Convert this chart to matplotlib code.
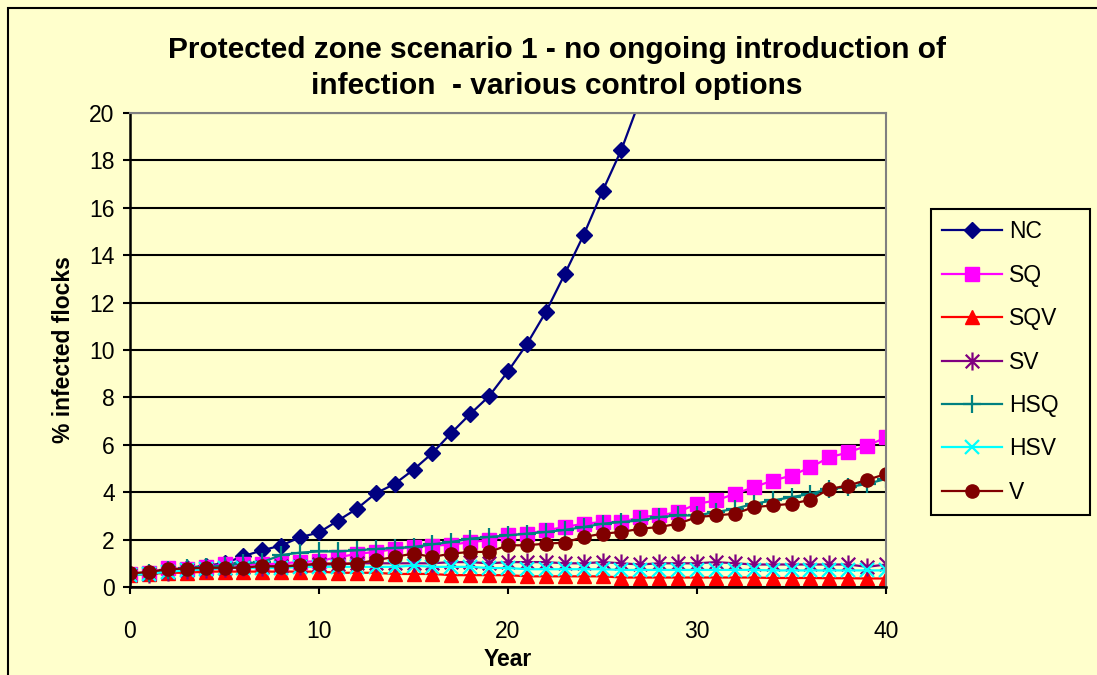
import numpy as np
import matplotlib
matplotlib.use('Agg')
import matplotlib.pyplot as plt
from matplotlib.patches import Rectangle
from matplotlib.path import Path

plt.rcParams['font.family'] = ['Liberation Sans', 'DejaVu Sans']

years = list(range(0, 41))
nc_years = list(range(0, 29))

NC = [0.55, 0.6, 0.7, 0.8, 0.9, 1.0, 1.3, 1.55, 1.75, 2.1, 2.3,
      2.8, 3.3, 3.95, 4.35, 4.95, 5.65, 6.5, 7.3, 8.05, 9.1,
      10.25, 11.6, 13.2, 14.85, 16.7, 18.45, 20.6, 22.8]
SQ = [0.55, 0.6, 0.8, 0.75, 0.85, 0.95, 0.95, 0.95, 1.0, 1.05, 1.1,
      1.25, 1.4, 1.48, 1.6, 1.68, 1.75, 1.78, 1.9, 1.97, 2.18,
      2.25, 2.39, 2.53, 2.67, 2.74, 2.74, 2.95, 3.02, 3.16, 3.51,
      3.65, 3.93, 4.21, 4.49, 4.70, 5.05, 5.47, 5.68, 5.96, 6.31]
SQV = [0.5, 0.55, 0.6, 0.6, 0.65, 0.65, 0.65, 0.65, 0.65, 0.65, 0.65,
       0.6, 0.6, 0.6, 0.55, 0.55, 0.55, 0.5, 0.5, 0.5, 0.5,
       0.45, 0.45, 0.45, 0.45, 0.45, 0.4, 0.4, 0.4, 0.4, 0.4,
       0.4, 0.4, 0.4, 0.38, 0.38, 0.38, 0.37, 0.37, 0.36, 0.36]
SV = [0.5, 0.55, 0.65, 0.7, 0.75, 0.8, 0.85, 0.85, 0.9, 0.9, 0.95,
      0.95, 1.0, 1.0, 1.0, 1.0, 1.0, 1.05, 1.05, 1.0, 1.05,
      1.05, 1.05, 1.0, 1.0, 1.05, 1.0, 0.95, 1.0, 1.0, 1.0,
      1.05, 1.0, 0.95, 0.95, 0.95, 0.95, 0.95, 0.95, 0.85, 0.95]
HSQ = [0.55, 0.6, 0.7, 0.8, 0.85, 0.9, 1.0, 1.05, 1.35, 1.45, 1.5,
       1.5, 1.55, 1.6, 1.65, 1.69, 1.8, 1.9, 2.04, 2.11, 2.18,
       2.25, 2.32, 2.41, 2.53, 2.67, 2.74, 2.81, 2.95, 3.02, 3.02,
       3.16, 3.3, 3.51, 3.65, 3.79, 3.93, 4.14, 4.21, 4.35, 4.56]
HSV = [0.5, 0.55, 0.65, 0.7, 0.75, 0.8, 0.8, 0.8, 0.8, 0.85, 0.85,
       0.85, 0.85, 0.85, 0.85, 0.9, 0.85, 0.85, 0.85, 0.8, 0.8,
       0.75, 0.75, 0.75, 0.75, 0.75, 0.72, 0.72, 0.72, 0.72, 0.72,
       0.72, 0.72, 0.72, 0.7, 0.7, 0.7, 0.7, 0.7, 0.7, 0.7]
V = [0.57, 0.64, 0.75, 0.78, 0.81, 0.81, 0.81, 0.89, 0.85, 0.92, 0.99,
     0.99, 0.99, 1.13, 1.27, 1.41, 1.27, 1.41, 1.48, 1.48, 1.76,
     1.76, 1.83, 1.87, 2.11, 2.25, 2.32, 2.46, 2.53, 2.67, 2.95,
     3.02, 3.09, 3.37, 3.44, 3.51, 3.68, 4.14, 4.28, 4.52, 4.77]

# excel style star: vertical stroke + an x
star = Path([(0, -1), (0, 1), (-0.75, -0.75), (0.75, 0.75), (-0.75, 0.75), (0.75, -0.75)],
            [Path.MOVETO, Path.LINETO, Path.MOVETO, Path.LINETO, Path.MOVETO, Path.LINETO])

bg = '#FFFFCC'
fig = plt.figure(figsize=(10.97, 6.75), dpi=100, facecolor=bg)
# outer chart border (cropped on right/bottom in the reference)
fig.patches.append(Rectangle((8 / 1097, -0.05), 1.2, 1 - 8 / 675 + 0.05,
                             transform=fig.transFigure, fill=False,
                             edgecolor='black', linewidth=1.5))

ax = fig.add_axes([130 / 1097, 1 - 587 / 675, 756 / 1097, 474 / 675])
ax.set_facecolor(bg)

series = [
    ('NC', nc_years, NC, '#000080', 'D', 8.5),
    ('SQ', years, SQ, '#FF00FF', 's', 10.5),
    ('SQV', years, SQV, '#FF0000', '^', 10),
    ('SV', years, SV, '#800080', star, 13),
    ('HSQ', years, HSQ, '#008080', '+', 13),
    ('HSV', years, HSV, '#00FFFF', 'x', 10.5),
    ('V', years, V, '#800000', 'o', 9.5),
]
for name, xs, ys, col, mk, ms in series:
    if not isinstance(mk, str) or mk in ('+', 'x'):
        ax.plot(xs, ys, color=col, lw=1.6, marker=mk, ms=ms, mew=1.6,
                mec=col, mfc='none', label=name)
    else:
        ax.plot(xs, ys, color=col, lw=1.6, marker=mk, ms=ms, mec=col,
                mfc=col, label=name)

ax.set_xlim(0, 40)
ax.set_ylim(0, 20)
ax.set_xticks([0, 10, 20, 30, 40])
ax.set_yticks(np.arange(0, 21, 2))
ax.yaxis.grid(True, color='black', lw=1.5)
ax.set_axisbelow(True)
ax.tick_params(axis='both', direction='out', length=5, width=1.5,
               labelsize=16.5, pad=6)
ax.tick_params(axis='x', pad=19)
for s in ['top', 'right']:
    ax.spines[s].set_color('#808080')
    ax.spines[s].set_linewidth(1.5)
for s in ['left', 'bottom']:
    ax.spines[s].set_color('black')
    ax.spines[s].set_linewidth(1.8)

ax.set_xlabel('Year', fontsize=16.5, fontweight='bold', labelpad=3)
ax.set_ylabel('% infected flocks', fontsize=16.5, fontweight='bold', labelpad=10)

fig.text(557 / 1097, 1 - 68 / 675,
         'Protected zone scenario 1 - no ongoing introduction of\ninfection  - various control options',
         ha='center', va='center', fontsize=21.5, fontweight='bold', linespacing=1.32)

leg = ax.legend(loc='upper left', bbox_to_anchor=(931 / 1097, 1 - 513 / 675, 159 / 1097, 304 / 675),
                bbox_transform=fig.transFigure, mode='expand', fontsize=16.5, frameon=True,
                fancybox=False, edgecolor='black', facecolor=bg,
                handlelength=2.6, handletextpad=0.3, labelspacing=0.89,
                borderpad=0.5, borderaxespad=0, framealpha=1)
leg.get_frame().set_linewidth(1.5)

fig.savefig('out.png', dpi=100, facecolor=bg)
